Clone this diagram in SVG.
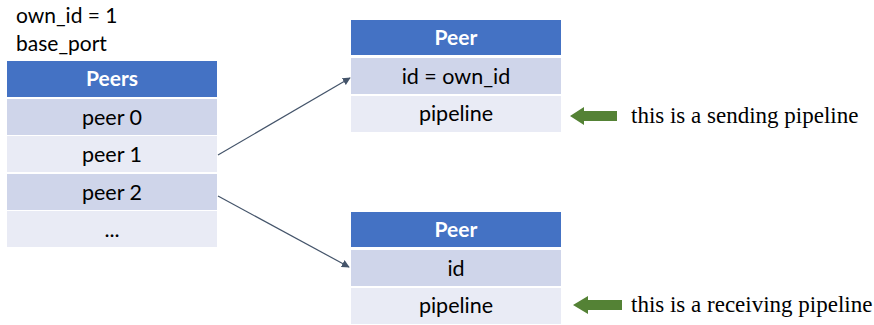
<svg xmlns="http://www.w3.org/2000/svg" width="874" height="325" viewBox="0 0 874 325">
<style>
.hdr{fill:#4472C4}
.dk{fill:#CFD5EA}
.lt{fill:#E9EBF5}
.t{font-family:Lato,"Open Sans",sans-serif;font-size:21.5px;fill:#000;text-anchor:middle}
.h{font-family:Lato,"Open Sans",sans-serif;font-size:21px;font-weight:bold;fill:#fff;text-anchor:middle}
.n{font-family:Lato,"Open Sans",sans-serif;font-size:21px;fill:#000}
.s{font-family:"Liberation Serif",serif;font-size:23px;fill:#000}
.c{stroke:#44546A;stroke-width:1.2;fill:none}
.g{fill:#548235}
</style>
<defs>
<marker id="ah" viewBox="0 0 10 10" refX="9" refY="5" markerWidth="8" markerHeight="8" markerUnits="userSpaceOnUse" orient="auto">
<path d="M0,0 L10,5 L0,10 z" fill="#44546A"/>
</marker>
</defs>
<g id="labels">
<text class="n" x="16" y="23">own_id = 1</text>
<text class="n" x="16" y="51">base_port</text>
</g>
<g id="peers">
<rect class="hdr" x="7" y="61" width="210" height="36"/>
<text class="h" x="112" y="86">Peers</text>
<rect class="dk" x="7" y="99" width="210" height="36"/>
<text class="t" x="112" y="125">peer 0</text>
<rect class="lt" x="7" y="136" width="210" height="36"/>
<text class="t" x="112" y="162">peer 1</text>
<rect class="dk" x="7" y="174" width="210" height="36"/>
<text class="t" x="112" y="200">peer 2</text>
<rect class="lt" x="7" y="211" width="210" height="36"/>
<text class="t" x="112" y="237">...</text>
</g>
<g id="peer-top">
<rect class="hdr" x="351" y="20" width="210" height="35"/>
<text class="h" x="456" y="45">Peer</text>
<rect class="dk" x="351" y="58" width="210" height="36"/>
<text class="t" x="456" y="84">id = own_id</text>
<rect class="lt" x="351" y="96" width="210" height="36"/>
<text class="t" x="456" y="121">pipeline</text>
</g>
<g id="peer-bottom">
<rect class="hdr" x="351" y="212" width="210" height="35"/>
<text class="h" x="456" y="237">Peer</text>
<rect class="dk" x="351" y="250" width="210" height="36"/>
<text class="t" x="456" y="276">id</text>
<rect class="lt" x="351" y="288" width="210" height="36"/>
<text class="t" x="456" y="313">pipeline</text>
</g>
<g id="connectors">
<line class="c" x1="218" y1="155" x2="350" y2="78" marker-end="url(#ah)"/>
<line class="c" x1="218" y1="196" x2="349" y2="267" marker-end="url(#ah)"/>
</g>
<g id="note-send">
<path class="g" d="M570,116 L584,107 L584,111 L617,111 L617,121 L584,121 L584,125 z"/>
<text class="s" x="631" y="123">this is a sending pipeline</text>
</g>
<g id="note-recv">
<path class="g" d="M573,305 L588,296 L588,300 L622,300 L622,310 L588,310 L588,314 z"/>
<text class="s" x="631" y="312">this is a receiving pipeline</text>
</g>
</svg>
